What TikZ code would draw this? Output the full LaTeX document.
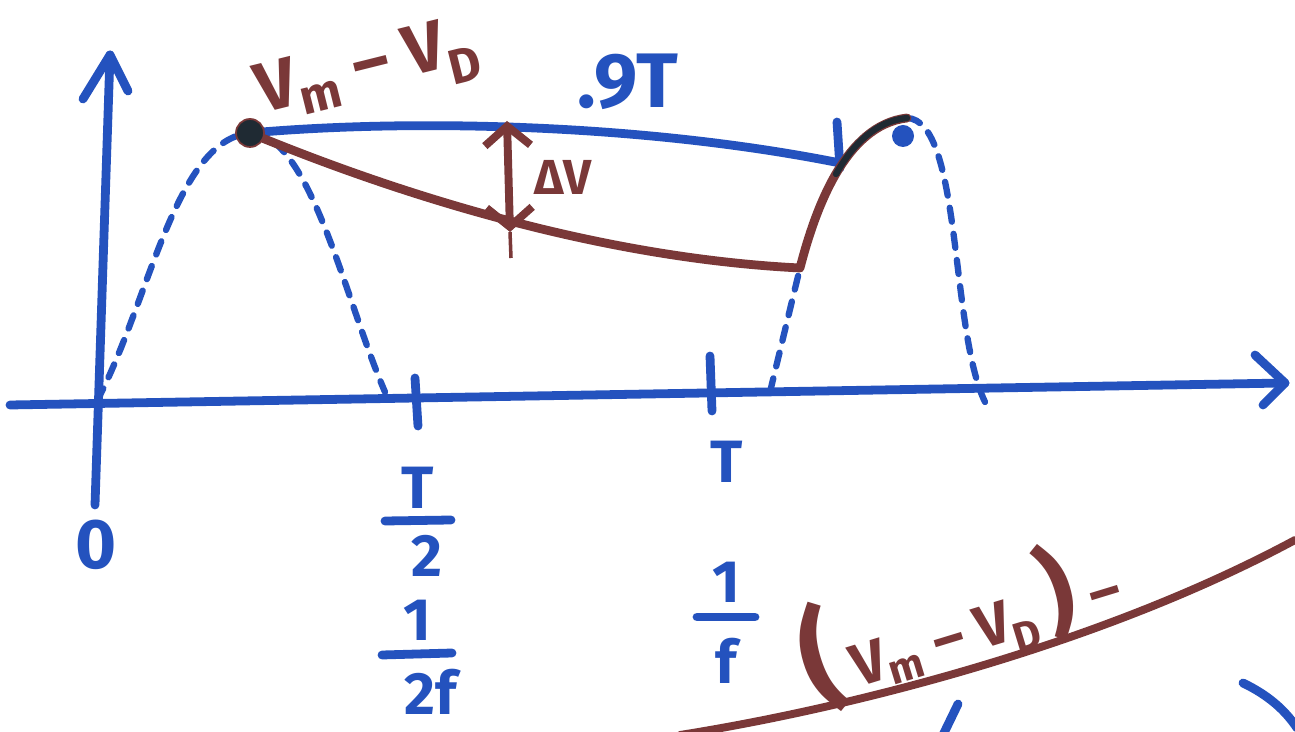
\documentclass[tikz,border=0pt]{standalone}
\usepackage{fontspec}
\setmainfont{Fira Sans}
\usepackage{xcolor}
\usepackage{tikz}
\usetikzlibrary{arrows.meta,positioning}
\definecolor{Pen}{HTML}{2452BE}
\definecolor{Ink}{HTML}{7A3838}
\definecolor{Dot}{HTML}{1F2A33}

\begin{document}
\begin{tikzpicture}[
  x=0.02cm,y=-0.02cm,
  axis/.style={draw=Pen,line width=5pt,line cap=round,line join=round},
  wave/.style={draw=Pen,line width=3.6pt,line cap=round,dash pattern=on 8pt off 7pt},
  ripple/.style={draw=Ink,line width=5pt,line cap=round,line join=round},
  hand/.style={font=\fontsize{34}{36}\selectfont\bfseries,inner sep=0pt},
  barb/.style={line width=4.5pt,{Straight Barb[length=11pt,width=26pt]}-{Straight Barb[length=11pt,width=26pt]}}
]
\useasboundingbox (0,0) rectangle (1295,732);
\fill[white] (0,0) rectangle (1295,732);
\clip (0,0) rectangle (1295,732);
% axes
\coordinate (origin) at (97,401);
\coordinate (ytop) at (110,55);
\coordinate (ybot) at (95,505);
\coordinate (xleft) at (10,405);
\coordinate (xright) at (1285,383);
\coordinate (halfT) at (416,396);
\coordinate (fullT) at (711,389);
\draw[axis] (ybot) -- (ytop);
\draw[axis] (ytop) ++(-27,44) -- (ytop) -- ++(18,36);
\draw[axis] (xleft) -- (xright);
\draw[axis] (xright) ++(-30,-28) -- (xright) -- ++(-22,22);
\draw[axis] (halfT) ++(-1,-18) -- ++(3,48);
\draw[axis] (fullT) ++(-1,-33) -- ++(2,55);
% axis labels
\node[hand,text=Pen,font=\fontsize{40}{42}\selectfont\bfseries] (zero) at (96,545) {0};
\node[hand,text=Pen] (tlabel) at (727,462) {T};
\coordinate (halfbar) at (418,521);
\draw[axis] (halfbar) ++(-33,0) -- ++(66,-1);
\node[hand,text=Pen,above=7pt of halfbar] (halfnum) {T};
\node[hand,text=Pen,below=8pt of halfbar,xshift=5pt] (halfden) {2};
\coordinate (freqbar) at (417,655);
\draw[axis] (freqbar) ++(-35,0) -- ++(70,-2);
\node[hand,text=Pen,above=8pt of freqbar] (freqnum) {1};
\node[hand,text=Pen,below=8pt of freqbar,xshift=8pt] (freqden) {2f};
\coordinate (invbar) at (726,617);
\draw[axis] (invbar) ++(-29,0) -- ++(58,0);
\node[hand,text=Pen,above=8pt of invbar] (invnum) {1};
\node[hand,text=Pen,below=12pt of invbar] (invden) {f};
% rectified sine, dashed
\coordinate (peakpt) at (250,133);
\coordinate (cross1) at (385,392);
\coordinate (rise2) at (770,392);
\coordinate (trough) at (800,268);
\coordinate (crest) at (907,118);
\coordinate (cross3) at (985,402);
\coordinate (flatend) at (840,163);
\draw[wave] (origin) .. controls (150,300) and (175,140) .. (peakpt);
\draw[wave] (peakpt) .. controls (310,133) and (345,300) .. (cross1);
\draw[wave] (rise2) -- (trough);
\draw[wave] (crest) .. controls (962,120) and (950,330) .. (cross3);
% hold interval
\draw[axis] (peakpt) .. controls (420,118) and (650,125) .. (flatend);
\draw[axis] (flatend) ++(-3,-41) -- ++(3,46);
\node[hand,text=Pen,font=\fontsize{44}{46}\selectfont\bfseries] (ninety) at (628,82) {.9T};
% output ripple
\node[circle,fill=Pen,minimum size=0.44cm,inner sep=0pt] (crestdot) at (903,136) {};
\draw[ripple] (peakpt) .. controls (400,195) and (600,258) .. (trough) .. controls (815,210) and (845,125) .. (crest);
\draw[draw=Dot,line width=3.6pt,line cap=round] (836,174) .. controls (853,144) and (876,121) .. (crest);
\node[circle,fill=Dot,draw=Ink,line width=1pt,minimum size=0.56cm,inner sep=0pt] (peak) at (peakpt) {};
\node[hand,text=Ink,rotate=14,font=\fontsize{40}{42}\selectfont\bfseries] (vlabel) at (368,72) {V\textsubscript{m} – V\textsubscript{D}};
% ripple voltage
\coordinate (dvtop) at (507,121);
\coordinate (dvbot) at (510,232);
\draw[draw=Ink,barb] (dvtop) -- (dvbot);
\draw[draw=Ink,line width=2pt] (dvbot) -- (511,258);
\node[hand,text=Ink,font=\fontsize{28}{30}\selectfont\bfseries] (dv) at (563,177) {ΔV};
% next line of the working
\coordinate (tailstart) at (680,735);
\coordinate (tailend) at (1295,540);
\draw[ripple,line width=4.5pt] (tailstart) .. controls (850,708) and (1100,645) .. (tailend);
\node[hand,text=Ink,rotate=17] (tailexpr) at (958,616) {{\fontsize{64}{64}\selectfont(}\,V\textsubscript{m} – V\textsubscript{D}\,{\fontsize{56}{56}\selectfont)} –};
\coordinate (strokeA) at (958,704);
\coordinate (strokeB) at (1243,683);
\draw[axis] (strokeA) -- ++(-15,31);
\draw[axis] (strokeB) .. controls (1268,695) and (1285,710) .. (1297,728);
\end{tikzpicture}
\end{document}
